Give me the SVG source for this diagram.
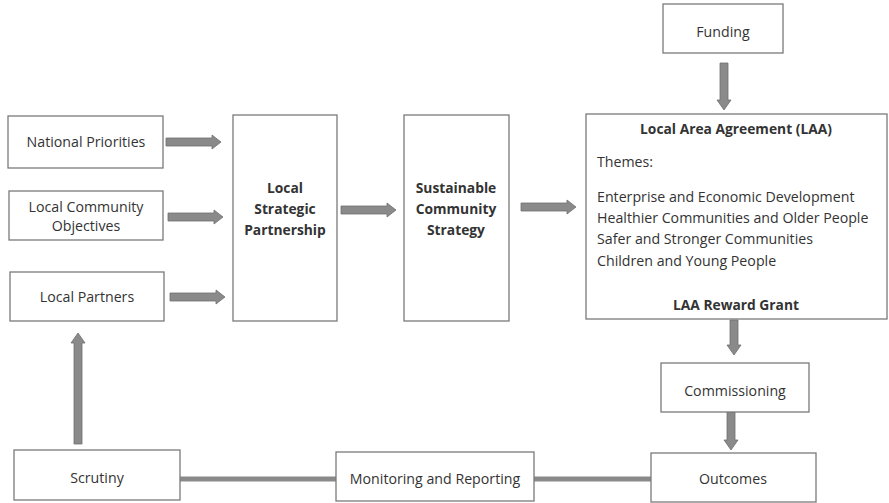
<svg xmlns="http://www.w3.org/2000/svg" width="889" height="503" viewBox="0 0 889 503">
  <style>
    .box { fill: #ffffff; stroke: #7a7a7a; stroke-width: 1.3; }
    .t { font-family: "Open Sans", "Noto Sans", "Liberation Sans", sans-serif; font-size: 14.2px; fill: #333333; text-anchor: middle; }
    .b { font-weight: bold; font-size: 13.8px; }
    .l { text-anchor: start; }
    .arrow { fill: #8a8a8a; stroke: #707070; stroke-width: 0.8; }
    .link { stroke: #8a8a8a; stroke-width: 5; fill: none; }
  </style>
  <rect width="889" height="503" fill="#ffffff"/>

  <!-- connectors -->
  <g id="connectors">
    <!-- horizontal block arrows -->
    <polygon class="arrow" points="166,138 212,138 212,135 221,142 212,149 212,146 166,146"/>
    <polygon class="arrow" points="168,213 214,213 214,210 223,217 214,224 214,221 168,221"/>
    <polygon class="arrow" points="170,293 216,293 216,290 225,297 216,304 216,301 170,301"/>
    <polygon class="arrow" points="341,206 387,206 387,203 396,210 387,217 387,214 341,214"/>
    <polygon class="arrow" points="521,203 567,203 567,200 576,207 567,214 567,211 521,211"/>
    <!-- vertical block arrows -->
    <polygon class="arrow" points="720,63 728,63 728,100 731,100 724,110 717,100 720,100"/>
    <polygon class="arrow" points="730,320 738,320 738,345 741,345 734,355 727,345 730,345"/>
    <polygon class="arrow" points="727,412 735,412 735,440 738,440 731,450 724,440 727,440"/>
    <polygon class="arrow" points="74,444 82,444 82,343 85,343 78,333 71,343 74,343"/>
    <!-- feedback line along the bottom -->
    <line class="link" x1="180" y1="479" x2="336" y2="479"/>
    <line class="link" x1="534" y1="479" x2="651" y2="479"/>
  </g>

  <g id="national-priorities">
    <rect class="box" x="8" y="116" width="155" height="52"/>
    <text class="t" x="86" y="147">National Priorities</text>
  </g>
  <g id="local-community-objectives">
    <rect class="box" x="9" y="191" width="154" height="49"/>
    <text class="t" x="86" y="212">Local Community</text>
    <text class="t" x="86" y="231">Objectives</text>
  </g>
  <g id="local-partners">
    <rect class="box" x="10" y="272" width="154" height="49"/>
    <text class="t" x="87" y="302">Local Partners</text>
  </g>
  <g id="local-strategic-partnership">
    <rect class="box" x="233" y="115" width="104" height="206"/>
    <text class="t b" x="285" y="193">Local</text>
    <text class="t b" x="285" y="214">Strategic</text>
    <text class="t b" x="285" y="235">Partnership</text>
  </g>
  <g id="sustainable-community-strategy">
    <rect class="box" x="404" y="115" width="105" height="206"/>
    <text class="t b" x="456" y="193">Sustainable</text>
    <text class="t b" x="456" y="214">Community</text>
    <text class="t b" x="456" y="235">Strategy</text>
  </g>
  <g id="funding">
    <rect class="box" x="663" y="4" width="120" height="49"/>
    <text class="t" x="723" y="37">Funding</text>
  </g>
  <g id="local-area-agreement">
    <rect class="box" x="586" y="114" width="301" height="205"/>
    <text class="t b" x="736" y="134">Local Area Agreement (LAA)</text>
    <text class="t l" x="597" y="167">Themes:</text>
    <text class="t l" x="597" y="202">Enterprise and Economic Development</text>
    <text class="t l" x="597" y="223">Healthier Communities and Older People</text>
    <text class="t l" x="597" y="244">Safer and Stronger Communities</text>
    <text class="t l" x="597" y="266">Children and Young People</text>
    <text class="t b" x="736" y="310">LAA Reward Grant</text>
  </g>
  <g id="commissioning">
    <rect class="box" x="661" y="363" width="148" height="49"/>
    <text class="t" x="735" y="396">Commissioning</text>
  </g>
  <g id="outcomes">
    <rect class="box" x="651" y="453" width="165" height="49"/>
    <text class="t" x="733" y="484">Outcomes</text>
  </g>
  <g id="monitoring-and-reporting">
    <rect class="box" x="336" y="452" width="198" height="49"/>
    <text class="t" x="435" y="484">Monitoring and Reporting</text>
  </g>
  <g id="scrutiny">
    <rect class="box" x="14" y="450" width="166" height="50"/>
    <text class="t" x="97" y="483">Scrutiny</text>
  </g>
</svg>
